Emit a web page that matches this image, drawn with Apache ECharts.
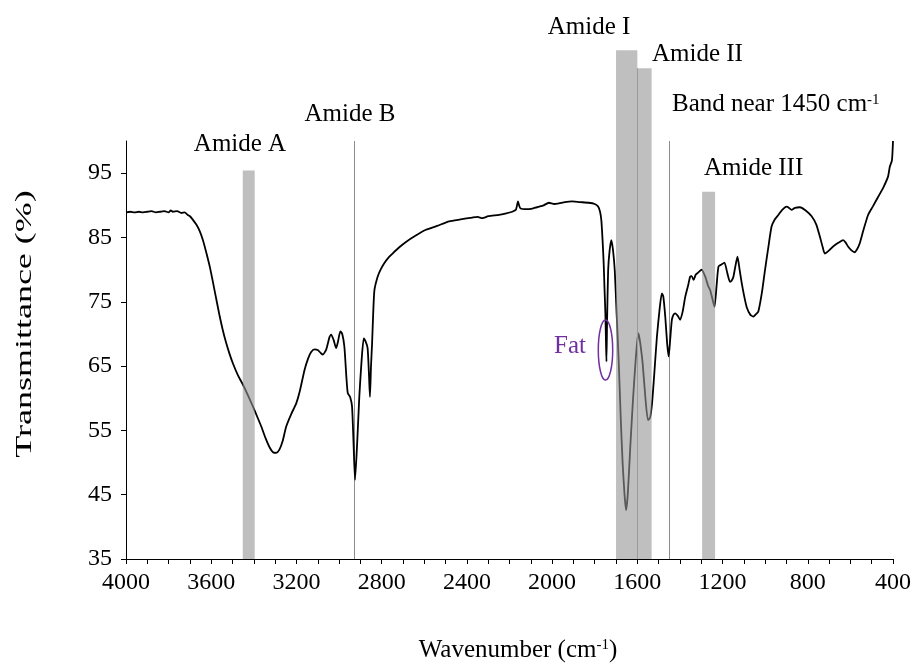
<!DOCTYPE html>
<html>
<head>
<meta charset="utf-8">
<script src="https://cdn.jsdelivr.net/npm/echarts@6/dist/echarts.min.js"></script>
<style>html,body{margin:0;padding:0;background:#fff;}#c{width:914px;height:664px;}</style>
</head>
<body>
<div id="c"></div>
<script>
// Wavenumber (cm-1) and transmittance (%) of the spectrum
const wavenumbers = [4000,3980,3960,3940,3920,3900,3880,3860,3840,3820,3800,3790,3780,3760,3740,3725,3710,3700,3692,3670,3654,3638,3622,3605,3591,3575,3560,3545,3529,3514,3498,3475,3451,3428,3404,3385,3365,3345,3325,3310,3295,3280,3265,3248,3225,3201,3185,3162,3145,3131,3115,3100,3085,3076,3060,3045,3037,3025,3014,3005,2994,2985,2975,2965,2959,2948,2939,2932,2925,2915,2905,2895,2884,2875,2866,2860,2855,2850,2845,2840,2834,2819,2805,2788,2770,2749,2720,2686,2640,2592,2540,2483,2430,2374,2350,2327,2300,2249,2220,2187,2170,2160,2155,2148,2120,2093,2060,2040,2015,1990,1968,1940,1906,1870,1828,1800,1784,1775,1769,1763,1758,1754,1750,1747,1745,1742,1737,1730,1722,1714,1706,1697,1687,1678,1669,1660,1653,1645,1633,1620,1609,1600,1594,1586,1575,1562,1550,1540,1531,1520,1508,1495,1485,1478,1469,1460,1453,1446,1438,1430,1422,1410,1399,1387,1375,1362,1352,1345,1336,1326,1316,1306,1298,1280,1268,1258,1248,1238,1228,1219,1205,1191,1178,1165,1157,1149,1140,1130,1120,1110,1098,1087,1070,1055,1045,1032,1015,1001,985,970,955,938,920,899,888,876,860,837,810,782,760,743,730,720,700,681,655,634,622,611,595,580,568,556,540,517,495,470,445,423,415,405,400];
const transmittance = [88.9,89.0,88.9,89.0,88.9,89.0,89.1,88.9,89.0,89.1,88.9,89.2,89.0,89.1,88.8,88.9,88.5,88.3,88.0,87.0,86.0,84.5,82.5,80.2,77.9,75.2,72.7,70.5,68.5,66.9,65.4,63.6,62.1,60.5,58.7,57.2,55.6,53.8,52.3,51.6,51.5,52.0,53.3,55.6,57.5,59.2,61.0,64.4,66.2,67.2,67.6,67.5,67.0,66.8,67.6,69.5,69.9,69.0,67.8,68.8,70.4,70.0,68.0,63.0,60.8,60.2,58.7,53.0,47.3,53.0,60.2,65.5,69.3,68.8,67.8,64.0,60.2,65.0,68.5,73.0,76.8,78.9,80.0,81.0,81.8,82.5,83.4,84.3,85.3,86.2,86.8,87.5,87.8,88.1,88.2,88.0,88.3,88.5,88.7,89.0,89.3,90.6,90.0,89.5,89.4,89.5,89.8,90.0,90.4,90.2,90.3,90.5,90.6,90.5,90.4,90.2,89.8,89.0,87.7,84.5,81.0,77.0,73.2,68.5,65.7,72.0,79.9,83.0,84.6,83.0,79.9,73.0,65.4,57.0,49.9,45.0,42.6,45.0,52.5,60.0,65.4,69.0,70.1,68.5,65.4,60.0,56.6,57.0,59.2,64.0,69.6,74.0,76.3,75.8,72.7,68.5,66.5,69.0,72.2,73.0,73.2,72.8,72.2,73.5,75.8,77.5,78.9,79.0,78.4,79.2,79.5,79.8,80.0,78.8,77.5,76.8,75.5,74.2,77.5,80.5,80.8,81.1,79.5,78.1,78.3,78.9,80.5,82.0,80.0,77.9,75.8,74.2,73.0,72.7,73.0,73.5,76.5,79.9,83.5,86.7,87.8,88.5,89.3,89.8,89.6,89.3,89.6,89.7,89.2,88.3,87.0,85.1,83.5,82.5,83.0,83.6,84.2,84.6,84.2,83.6,83.0,82.7,83.2,84.1,86.0,88.5,89.8,91.3,92.8,94.5,96.0,97.0,100];

// Highlighted bands: [from, to, top]
const bandNames = ['Amide A','Amide I','Amide II','Amide III'];
const bandRanges = [[3396,3452,95.4],[1600,1700,114.1],[1533,1600,111.3],[1235,1296,92.1]];
// Marker lines: [wavenumber, top]
const markerLines = [[2930,100],[1450,100]];
const boundaryLines = [[1600,111.3]];

// Tick values
const xTickValues = [];
for (let v = 400; v <= 4000; v += 100) xTickValues.push(v);
const xLabelValues = [400,800,1200,1600,2000,2400,2800,3200,3600,4000];
const yLabelValues = [35,45,55,65,75,85,95];

const FONT = '"Liberation Serif","Times New Roman",serif';
const chart = echarts.init(document.getElementById('c'), null, {renderer:'canvas'});

function rectItem(fill){
  return function(params, api){
    const p1 = api.coord([api.value(0), api.value(2)]);
    const p2 = api.coord([api.value(1), 35]);
    return {type:'rect', shape:{x:Math.min(p1[0],p2[0]), y:p1[1], width:Math.abs(p2[0]-p1[0]), height:p2[1]-p1[1]}, style:{fill:fill}};
  };
}
function lineItem(color){
  return function(params, api){
    const a = api.coord([api.value(0), 35]);
    const b = api.coord([api.value(0), api.value(1)]);
    return {type:'line', shape:{x1:Math.round(a[0])+0.5, y1:a[1], x2:Math.round(b[0])+0.5, y2:b[1]}, style:{stroke:color, lineWidth:1}};
  };
}

const txt = (text, x, y, align, color) => ({
  type:'text', x:x, y:y, z:100,
  style:{text:text, font:'25px ' + FONT, fill:color || '#000', align:align, textAlign:align, verticalAlign:'middle', textVerticalAlign:'middle'}
});

chart.setOption({
  animation:false,
  backgroundColor:'#fff',
  grid:{left:126, right:19, top:141, bottom:105, containLabel:false},
  xAxis:{
    type:'value', inverse:true, min:400, max:4000,
    axisLine:{show:true, onZero:false, lineStyle:{color:'#000', width:1}},
    axisTick:{show:true, length:5, customValues:xTickValues, lineStyle:{color:'#000'}},
    axisLabel:{customValues:xLabelValues, margin:12, fontSize:24, fontFamily:FONT, color:'#000', formatter:v => String(v)},
    splitLine:{show:false}
  },
  yAxis:{
    type:'value', min:35, max:100,
    axisLine:{show:true, onZero:false, lineStyle:{color:'#000', width:1}},
    axisTick:{show:true, length:5, customValues:yLabelValues, lineStyle:{color:'#000'}},
    axisLabel:{customValues:yLabelValues, margin:14, fontSize:24, fontFamily:FONT, color:'#000', formatter:v => String(v)},
    splitLine:{show:false}
  },
  series:[
    {type:'custom', name:'markers', z:1, clip:false, silent:true,
     renderItem:lineItem('#8c8c8c'), encode:{x:0, y:1}, data:markerLines},
    {type:'line', name:'spectrum', z:2, showSymbol:false, smooth:0.2,
     lineStyle:{color:'#000', width:1.8}, data:wavenumbers.map((w,i)=>[w, transmittance[i]])},
    {type:'custom', name:'bands', z:3, clip:false, silent:true,
     renderItem:rectItem('rgba(148,148,148,0.6)'), encode:{x:[0,1], y:2}, data:bandRanges},
    {type:'custom', name:'boundary', z:4, clip:false, silent:true,
     renderItem:lineItem('#9a9a9a'), encode:{x:0, y:1}, data:boundaryLines}
  ],
  graphic:[
    txt(bandNames[0], 240, 144.7, 'center'),
    txt('Amide B', 350, 114.7, 'center'),
    txt(bandNames[1], 589, 27, 'center'),
    txt(bandNames[2], 652, 54.7, 'left'),
    {type:'text', x:672, y:104.7, z:100, style:{text:'{a|Band near 1450 cm}{s|-1}', align:'left', textAlign:'left', verticalAlign:'middle', textVerticalAlign:'middle',
      rich:{a:{font:'25px ' + FONT, fill:'#000', color:'#000'}, s:{font:'15px ' + FONT, fill:'#000', color:'#000', verticalAlign:'top'}}}},
    txt(bandNames[3], 704, 168, 'left'),
    txt('Fat', 570, 346.3, 'center', '#7030A0'),
    {type:'ellipse', z:100, shape:{cx:605.5, cy:350, rx:7.2, ry:30}, style:{stroke:'#7030A0', fill:null, lineWidth:1.5}},
    {type:'text', x:518, y:650, z:100, style:{text:'{a|Wavenumber (cm}{s|-1}{a|)}', align:'center', textAlign:'center', verticalAlign:'middle', textVerticalAlign:'middle',
      rich:{a:{font:'25px ' + FONT, fill:'#000', color:'#000'}, s:{font:'15px ' + FONT, fill:'#000', color:'#000', verticalAlign:'top'}}}},
    {type:'text', x:25, y:324, z:100, rotation:Math.PI/2, scaleX:1.5, style:{text:'Transmittance (%)', font:'24px ' + FONT, fill:'#000', align:'center', textAlign:'center', verticalAlign:'middle', textVerticalAlign:'middle'}}
  ]
});
</script>
</body>
</html>
